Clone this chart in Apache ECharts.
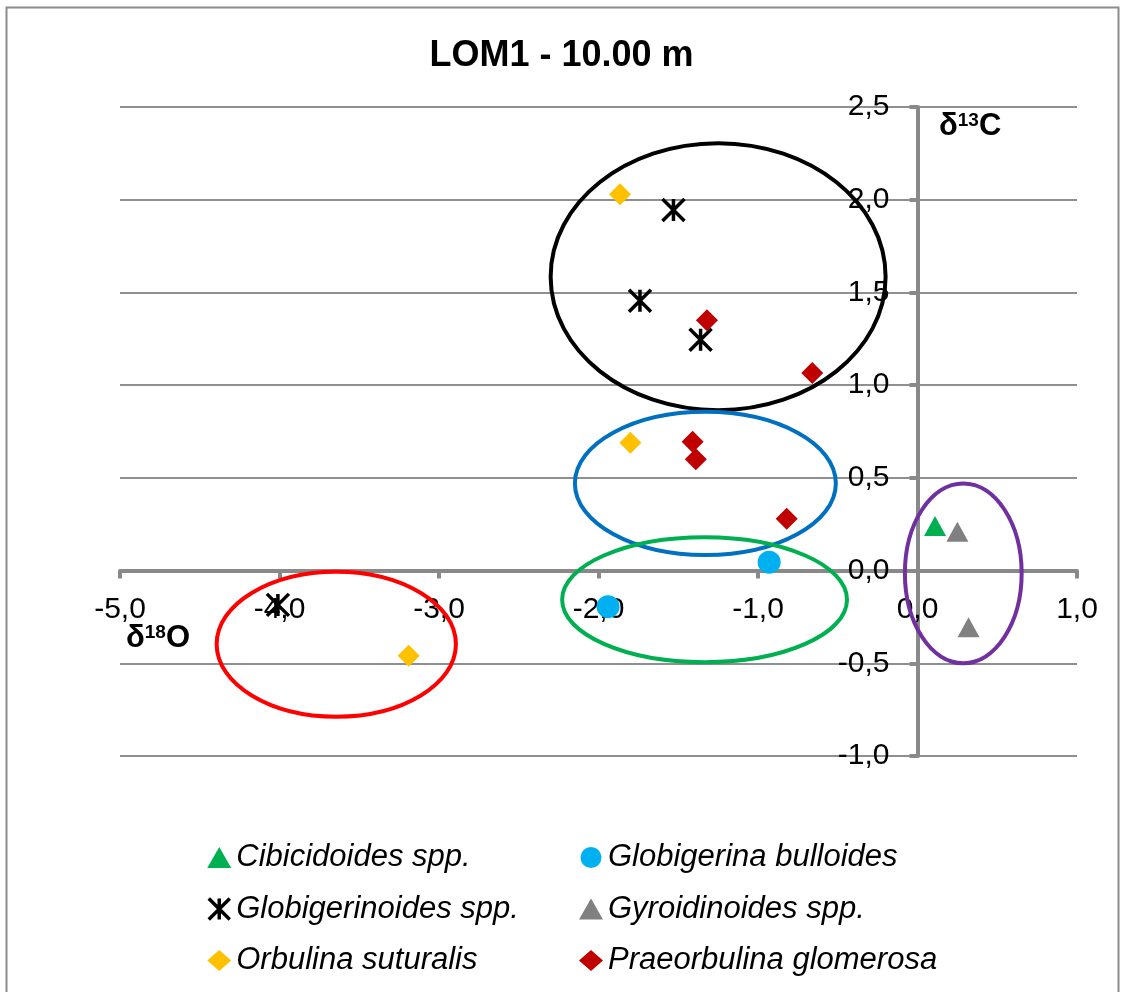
<!DOCTYPE html>
<html>
<head>
<meta charset="utf-8">
<title>LOM1 - 10.00 m</title>
<script src="https://cdn.jsdelivr.net/npm/echarts@6/dist/echarts.min.js"></script>
<style>
  html, body { margin: 0; padding: 0; background: #fff; }
  #chart { width: 1123px; height: 992px; }
</style>
</head>
<body>
<div id="chart"></div>
<script>
// axis ticks
const xTicks = [-5, -4, -3, -2, -1, 0, 1];
const yTicks = [-1, -0.5, 0, 0.5, 1, 1.5, 2, 2.5];

// [d18O, d13C] for each taxon
const cibicidoides = [[0.11, 0.24]];
const globigerinaBulloides = [[-0.93, 0.045], [-1.94, -0.195]];
const globigerinoides = [[-1.53, 1.945], [-1.74, 1.455], [-1.36, 1.245], [-4.01, -0.185]];
const gyroidinoides = [[0.25, 0.21], [0.32, -0.305]];
const orbulina = [[-1.865, 2.03], [-1.80, 0.69], [-3.19, -0.46]];
const praeorbulina = [[-1.32, 1.35], [-0.66, 1.065], [-1.41, 0.695], [-1.39, 0.60], [-0.82, 0.28]];

// circled groups: [centre x, centre y, half width, half height] in axis units
const groupBlack = [-1.25, 1.585, 1.05, 0.72];
const groupBlue = [-1.33, 0.47, 0.818, 0.386];
const groupGreen = [-1.335, -0.157, 0.893, 0.337];
const groupRed = [-3.644, -0.397, 0.75, 0.391];
const groupPurple = [0.287, -0.015, 0.366, 0.485];
const groupColors = ['#000000', '#0070c0', '#00b050', '#ff0000', '#7030a0'];

const FONT = '"Liberation Sans", Arial, sans-serif';
const fmt = v => v.toFixed(1).replace('.', ',');
const starPath = 'path://M0,0L10,10M10,0L0,10M5,0L5,10';

// grid box, the axes cross at 0,0 inside it
const gridLeft = 120, gridRight = 46, gridTop = 107, gridBottom = 236;
const gridW = 1123 - gridLeft - gridRight;
const gridH = 992 - gridTop - gridBottom;
const xMin = xTicks[0], xMax = xTicks[xTicks.length - 1];
const yMin = yTicks[0], yMax = yTicks[yTicks.length - 1];
const yAxisShift = -(0 - xMin) / (xMax - xMin) * gridW;
const xAxisShift = -(0 - yMin) / (yMax - yMin) * gridH;

const chart = echarts.init(document.getElementById('chart'));

chart.setOption({
  animation: false,
  backgroundColor: '#fff',
  title: {
    text: 'LOM1 - 10.00 m',
    left: 'center',
    top: 33,
    textStyle: { fontFamily: FONT, fontSize: 36, fontWeight: 'bold', color: '#000' }
  },
  grid: { left: gridLeft, right: gridRight, top: gridTop, bottom: gridBottom },
  xAxis: {
    type: 'value',
    min: xMin,
    max: xMax,
    interval: 1,
    offset: xAxisShift,
    axisLine: { onZero: false, lineStyle: { color: '#898989', width: 4 } },
    axisTick: { show: true, length: 8, lineStyle: { color: '#898989', width: 4 } },
    axisLabel: { margin: 24, formatter: fmt, fontFamily: FONT, fontSize: 30, color: '#000' },
    splitLine: { show: false }
  },
  yAxis: {
    type: 'value',
    min: yMin,
    max: yMax,
    interval: 0.5,
    offset: yAxisShift,
    axisLine: { show: true, onZero: false, lineStyle: { color: '#898989', width: 4 } },
    axisTick: { show: true, length: 8, lineStyle: { color: '#898989', width: 4 } },
    axisLabel: { margin: 28, formatter: fmt, fontFamily: FONT, fontSize: 30, color: '#000' },
    splitLine: { show: true, lineStyle: { color: '#8f8f8f', width: 2 } }
  },
  legend: [
    {
      orient: 'vertical',
      left: 202,
      top: 837,
      itemWidth: 24,
      itemHeight: 21,
      itemGap: 20.5,
      selectedMode: false,
      textStyle: { fontFamily: FONT, fontSize: 31, fontStyle: 'italic', color: '#000' },
      data: [
        'Cibicidoides spp.',
        { name: 'Globigerinoides spp.', itemStyle: { borderWidth: 3.5 } },
        'Orbulina suturalis'
      ]
    },
    {
      orient: 'vertical',
      left: 574,
      top: 837,
      itemWidth: 24,
      itemHeight: 21,
      itemGap: 20.5,
      selectedMode: false,
      textStyle: { fontFamily: FONT, fontSize: 31, fontStyle: 'italic', color: '#000' },
      data: ['Globigerina bulloides', 'Gyroidinoides spp.', 'Praeorbulina glomerosa']
    }
  ],
  graphic: [
    {
      type: 'rect',
      shape: { x: 6.5, y: 7.5, width: 1112, height: 1000 },
      style: { fill: 'none', stroke: '#8c8c8c', lineWidth: 2 },
      silent: true
    },
    {
      type: 'text',
      left: 939,
      top: 111,
      style: {
        text: '{d|δ}{s|13}{d|C}',
        rich: {
          d: { fontFamily: FONT, fontSize: 31, fontWeight: 'bold', fill: '#000' },
          s: { fontFamily: FONT, fontSize: 19, fontWeight: 'bold', fill: '#000', verticalAlign: 'top' }
        }
      }
    },
    {
      type: 'text',
      left: 126,
      top: 623,
      style: {
        text: '{d|δ}{s|18}{d|O}',
        rich: {
          d: { fontFamily: FONT, fontSize: 31, fontWeight: 'bold', fill: '#000' },
          s: { fontFamily: FONT, fontSize: 19, fontWeight: 'bold', fill: '#000', verticalAlign: 'top' }
        }
      }
    }
  ],
  series: [
    {
      name: 'Cibicidoides spp.',
      type: 'scatter',
      symbol: 'triangle',
      symbolSize: [22, 20],
      itemStyle: { color: '#00b050', opacity: 1 },
      data: cibicidoides
    },
    {
      name: 'Globigerina bulloides',
      type: 'scatter',
      symbol: 'circle',
      symbolSize: 23,
      itemStyle: { color: '#00b0f0', opacity: 1 },
      data: globigerinaBulloides
    },
    {
      name: 'Globigerinoides spp.',
      type: 'scatter',
      symbol: starPath,
      symbolSize: 22,
      itemStyle: { color: '#000', borderColor: '#000', borderWidth: 3.5, opacity: 1 },
      data: globigerinoides
    },
    {
      name: 'Gyroidinoides spp.',
      type: 'scatter',
      symbol: 'triangle',
      symbolSize: [22, 20],
      itemStyle: { color: '#808080', opacity: 1 },
      data: gyroidinoides
    },
    {
      name: 'Orbulina suturalis',
      type: 'scatter',
      symbol: 'diamond',
      symbolSize: 22,
      itemStyle: { color: '#ffc000', opacity: 1 },
      data: orbulina
    },
    {
      name: 'Praeorbulina glomerosa',
      type: 'scatter',
      symbol: 'diamond',
      symbolSize: 22,
      itemStyle: { color: '#c00000', opacity: 1 },
      data: praeorbulina
    },
    {
      name: 'groups',
      type: 'custom',
      z: 5,
      silent: true,
      clip: false,
      encode: { x: 0, y: 1 },
      data: [groupBlack, groupBlue, groupGreen, groupRed, groupPurple],
      renderItem: function (params, api) {
        const c = api.coord([api.value(0), api.value(1)]);
        const s = api.size([api.value(2), api.value(3)]);
        return {
          type: 'ellipse',
          shape: { cx: c[0], cy: c[1], rx: s[0], ry: s[1] },
          style: { fill: 'none', stroke: groupColors[params.dataIndex], lineWidth: 4 }
        };
      }
    }
  ]
});
</script>
</body>
</html>
